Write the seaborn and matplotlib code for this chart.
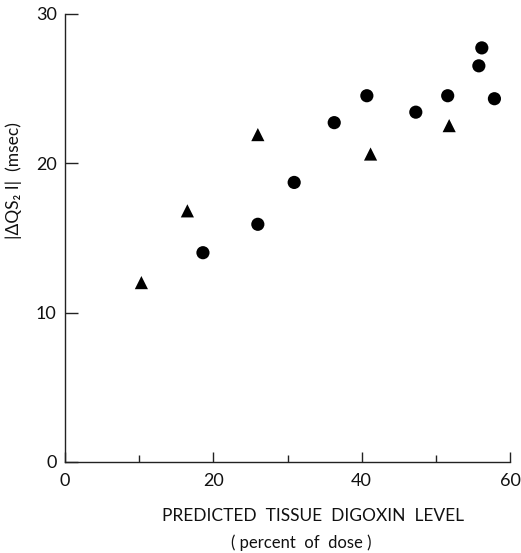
import matplotlib
matplotlib.use("Agg")
import matplotlib.pyplot as plt
import seaborn as sns
import pandas as pd

# --- data ---
circle_x = [18.6, 26.0, 30.9, 36.3, 40.7, 47.3, 51.6, 55.8, 56.2, 57.9]
circle_y = [14.0, 15.9, 18.7, 22.7, 24.5, 23.4, 24.5, 26.5, 27.7, 24.3]
triangle_x = [10.3, 16.5, 26.0, 41.2, 51.8]
triangle_y = [12.0, 16.8, 21.9, 20.6, 22.5]

x_major_ticks = [0, 20, 40, 60]
x_minor_ticks = [10, 30, 50]
x_ticklabels = ["0", "20", "40", "60"]
y_ticks = [0, 10, 20, 30]
y_ticklabels = ["0", "10", "20", "30"]

df = pd.DataFrame({
    "x": circle_x + triangle_x,
    "y": circle_y + triangle_y,
    "group": ["circle"] * len(circle_x) + ["triangle"] * len(triangle_x),
})

sns.set_style("ticks")
plt.rcParams["font.family"] = ["Lato", "DejaVu Sans"]

fig = plt.figure(figsize=(5.21, 5.53), dpi=100)
ax = fig.add_axes([65 / 521, 1 - 462 / 553, 445 / 521, (462 - 13.5) / 553])

sns.scatterplot(data=df, x="x", y="y", style="group",
                markers={"circle": "o", "triangle": "^"},
                color="black", edgecolor="black", linewidth=0,
                s=90, legend=False, ax=ax, zorder=3)

ax.set_xlim(0, 60)
ax.set_ylim(0, 30)
ax.set_xticks(x_major_ticks)
ax.set_xticklabels(x_ticklabels)
ax.set_xticks(x_minor_ticks, minor=True)
ax.set_yticks(y_ticks)
ax.set_yticklabels(y_ticklabels)
ax.set_xlabel("")
ax.set_ylabel("")

for s in ["top", "right"]:
    ax.spines[s].set_visible(False)
for s in ["left", "bottom"]:
    ax.spines[s].set_color("#222222")
    ax.spines[s].set_linewidth(1.0)

ax.tick_params(axis="x", which="major", direction="in", length=7.5, width=1.0,
               colors="#222222", labelsize=13, pad=8, labelcolor="#111111")
ax.tick_params(axis="x", which="minor", direction="in", length=5, width=1.0,
               colors="#222222")
ax.tick_params(axis="y", direction="in", length=9, width=1.0, colors="#222222",
               labelsize=13, pad=6, labelcolor="#111111")

fig.text(313 / 521, 1 - 516 / 553, "PREDICTED  TISSUE  DIGOXIN  LEVEL",
         ha="center", va="center", fontsize=12.5, color="#111111")
fig.text(301 / 521, 1 - 543 / 553, "( percent  of  dose )",
         ha="center", va="center", fontsize=12, color="#111111")
fig.text(14 / 521, 1 - 181 / 553, "|ΔQS₂ I|  (msec)", rotation=90,
         ha="center", va="center", fontsize=12.5, color="#111111")

fig.savefig("out.png", dpi=100, facecolor="white")
